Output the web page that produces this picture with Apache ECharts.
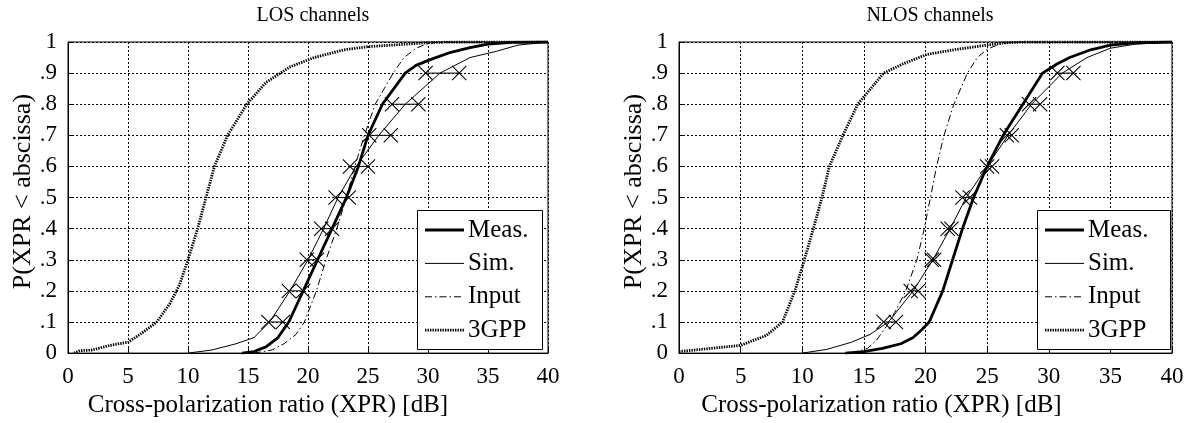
<!DOCTYPE html>
<html><head><meta charset="utf-8">
<script src="https://cdn.jsdelivr.net/npm/echarts@6/dist/echarts.min.js"></script>
<style>html,body{margin:0;padding:0;background:#fff}#c{width:1197px;height:423px}</style>
</head><body><div id="c"></div>
<script>
// ---- data ----
const panelTitles = ['LOS channels', 'NLOS channels'];
const legendNames = ['Meas.', 'Sim.', 'Input', '3GPP'];
const levels = [0.1, 0.2, 0.3, 0.4, 0.5, 0.6, 0.7, 0.8, 0.9];

// LOS
const losMeas = [[14.5,0],[15.5,0.005],[16.5,0.02],[17.5,0.05],[18.4,0.1],[19.6,0.2],[20.8,0.3],[22.0,0.4],[23.2,0.5],[24.2,0.6],[25.0,0.7],[26.2,0.8],[28.1,0.9],[29.0,0.925],[30.3,0.945],[31.9,0.967],[33.5,0.982],[35,0.993],[37,0.999],[40,1]];
const losSim = [[10,0],[12,0.01],[14,0.03],[15.5,0.05],[16.8,0.1],[18.5,0.2],[20.0,0.3],[21.3,0.4],[22.5,0.5],[24.0,0.6],[25.9,0.7],[28.1,0.8],[31.0,0.9],[33.5,0.95],[35.7,0.97],[37.5,0.99],[40,1]];
const losInput = [[15.5,0],[17,0.01],[18,0.03],[19,0.06],[19.7,0.1],[20.7,0.2],[21.5,0.3],[22.4,0.4],[23.2,0.5],[23.9,0.6],[24.7,0.7],[25.6,0.8],[27.1,0.9],[28,0.95],[29,0.98],[30,0.995],[31,1],[40,1]];
const los3gpp = [[0.5,0],[1,0.008],[2,0.01],[3.5,0.025],[5,0.035],[6,0.06],[7.4,0.1],[8.5,0.16],[9.3,0.22],[10,0.3],[10.8,0.4],[11.5,0.5],[12.2,0.6],[13.3,0.7],[14.9,0.8],[16.5,0.87],[18.5,0.92],[20.5,0.95],[23,0.975],[25,0.985],[27,0.99],[30,0.998],[32,1],[40,1]];
const losMarkLo = [16.7, 18.4, 19.9, 21.1, 22.3, 23.5, 25.1, 27.0, 29.8];
const losMarkHi = [17.9, 19.6, 20.75, 22.0, 23.4, 25.0, 26.9, 29.2, 32.6];

// NLOS
const nlosMeas = [[13.5,0],[15,0.005],[16.5,0.015],[18,0.03],[19,0.05],[19.7,0.075],[20.3,0.1],[21.4,0.2],[22.2,0.3],[23.0,0.4],[23.9,0.5],[25.0,0.6],[26.3,0.7],[27.9,0.8],[29.5,0.9],[30.7,0.93],[31.7,0.95],[33.4,0.975],[35,0.99],[37,0.997],[40,1]];
const nlosSim = [[10,0],[12,0.012],[14,0.035],[15.5,0.06],[17.0,0.1],[19.0,0.2],[20.6,0.3],[22.0,0.4],[23.3,0.5],[25.0,0.6],[26.7,0.7],[28.6,0.8],[31.1,0.9],[33.1,0.95],[35,0.98],[37,0.993],[40,1]];
const nlosInput = [[14,0],[15.3,0.015],[16,0.04],[16.9,0.09],[17.5,0.13],[18.4,0.2],[19.3,0.3],[19.9,0.4],[20.4,0.5],[20.9,0.6],[21.5,0.7],[22.3,0.8],[23.4,0.9],[24.2,0.95],[25,0.977],[26,0.993],[27,1],[40,1]];
const nlos3gpp = [[0,0.005],[2.5,0.015],[5,0.025],[7.1,0.057],[8.4,0.1],[9.4,0.2],[10.1,0.29],[10.9,0.4],[11.6,0.5],[12.2,0.6],[13.3,0.7],[14.5,0.8],[16.6,0.9],[18.2,0.93],[20.1,0.96],[22.3,0.975],[25,0.99],[26.3,0.997],[28,1],[40,1]];
const nlosMarkLo = [16.6, 18.8, 20.5, 21.8, 23.0, 25.0, 26.6, 28.4, 30.7];
const nlosMarkHi = [17.6, 19.4, 20.7, 22.1, 23.6, 25.4, 27.0, 29.3, 32.0];

const xTickStep = 5, yTickStep = 0.1;

// ---- chart ----
const FONT = 'Liberation Serif';
const panels = [
  {meas: losMeas, sim: losSim, input: losInput, g3: los3gpp, lo: losMarkLo, hi: losMarkHi},
  {meas: nlosMeas, sim: nlosSim, input: nlosInput, g3: nlos3gpp, lo: nlosMarkLo, hi: nlosMarkHi}
];
const grids = [
  {left: 68, top: 42, width: 480, height: 312},
  {left: 679, top: 42, width: 493, height: 312}
];
const styles = [
  {width: 2.8},                        // Meas.
  {width: 1},                          // Sim.
  {width: 1, type: [7, 3, 1.5, 3]},    // Input
  {width: 2.8, type: [1.4, 1.1]}       // 3GPP
];
const CROSS = 'path://M0,1L1,0L20,19L19,20Z M19,0L20,1L1,20L0,19Z';

const series = [];
panels.forEach((p, i) => {
  const base = {type: 'line', xAxisIndex: i, yAxisIndex: i, symbol: 'none', silent: true, animation: false, z: 3};
  const sets = [p.meas, p.sim, p.input, p.g3];
  [3, 2, 1, 0].forEach(k => {
    series.push(Object.assign({}, base, {
      name: legendNames[k], data: sets[k],
      lineStyle: Object.assign({color: '#000'}, styles[k]), itemStyle: {color: '#000'}
    }));
  });
  levels.forEach((lv, k) => {
    series.push(Object.assign({}, base, {
      name: 'range' + i + '_' + k,
      data: [[p.lo[k], lv], [p.hi[k], lv]],
      symbol: CROSS, symbolSize: 15, showSymbol: true,
      lineStyle: {color: '#000', width: 1},
      itemStyle: {color: '#000'}
    }));
  });
});

const xAxes = grids.map((g, i) => ({
  type: 'value', gridIndex: i, min: 0, max: 40, interval: xTickStep,
  name: 'Cross-polarization ratio (XPR) [dB]', nameLocation: 'middle', nameGap: 37,
  nameTextStyle: {fontFamily: FONT, fontSize: 25, color: '#000', padding: [0, i === 0 ? 80 : 88, 0, 0]},
  axisLine: {show: true, lineStyle: {color: '#000', width: 1}},
  axisTick: {show: true, inside: true, length: 5, lineStyle: {color: '#000'}},
  axisLabel: {fontFamily: FONT, fontSize: 23, color: '#000', margin: 12},
  splitLine: {show: true, lineStyle: {color: '#000', width: 1, type: [2, 2]}}
}));
const yAxes = grids.map((g, i) => ({
  type: 'value', gridIndex: i, min: 0, max: 1, interval: yTickStep,
  name: 'P(XPR < abscissa)', nameLocation: 'middle', nameGap: 32,
  nameTextStyle: {fontFamily: FONT, fontSize: 26, color: '#000', padding: [0, 0, 0, 12]},
  axisLine: {show: true, lineStyle: {color: '#000', width: 1}},
  axisTick: {show: true, inside: true, length: 5, lineStyle: {color: '#000'}},
  axisLabel: {fontFamily: FONT, fontSize: 23, color: '#000', margin: 11,
    formatter: v => v === 0 ? '0' : (v === 1 ? '1' : '.' + Math.round(v * 10))},
  splitLine: {show: true, lineStyle: {color: '#000', width: 1, type: [2, 2]}}
}));

// boxed legends drawn as graphics
const legendBoxes = [
  {x: 417, y: 210, w: 125, h: 139},
  {x: 1037, y: 210, w: 133, h: 139}
];
const graphics = [];
legendBoxes.forEach(b => {
  graphics.push({type: 'rect', left: b.x, top: b.y, z: 100,
    shape: {width: b.w, height: b.h},
    style: {fill: '#fff', stroke: '#000', lineWidth: 1}});
  legendNames.forEach((nm, k) => {
    const cy = b.y + 20 + k * 33.4;
    const x1 = b.x + 8, x2 = b.x + 47;
    graphics.push({type: 'line', z: 101,
      shape: {x1: x1, y1: cy, x2: x2, y2: cy},
      style: {stroke: '#000', lineWidth: styles[k].width, lineDash: styles[k].type || null}});
    graphics.push({type: 'text', z: 101, x: x2 + 4, y: cy,
      style: {text: nm, fill: '#000', font: '25px "' + FONT + '"', textVerticalAlign: 'middle', verticalAlign: 'middle'}});
  });
});

const chart = echarts.init(document.getElementById('c'), null, {renderer: 'canvas'});
chart.setOption({
  backgroundColor: '#fff',
  animation: false,
  title: [
    {text: panelTitles[0], left: 308, top: 1, textAlign: 'center', textStyle: {fontFamily: FONT, fontSize: 20, fontWeight: 'normal', color: '#000'}},
    {text: panelTitles[1], left: 925, top: 1, textAlign: 'center', textStyle: {fontFamily: FONT, fontSize: 20, fontWeight: 'normal', color: '#000'}}
  ],
  grid: grids.map(g => Object.assign({show: true, borderColor: '#000', borderWidth: 1, backgroundColor: 'transparent'}, g)),
  xAxis: xAxes,
  yAxis: yAxes,
  graphic: graphics,
  series: series
});
</script>
</body></html>
